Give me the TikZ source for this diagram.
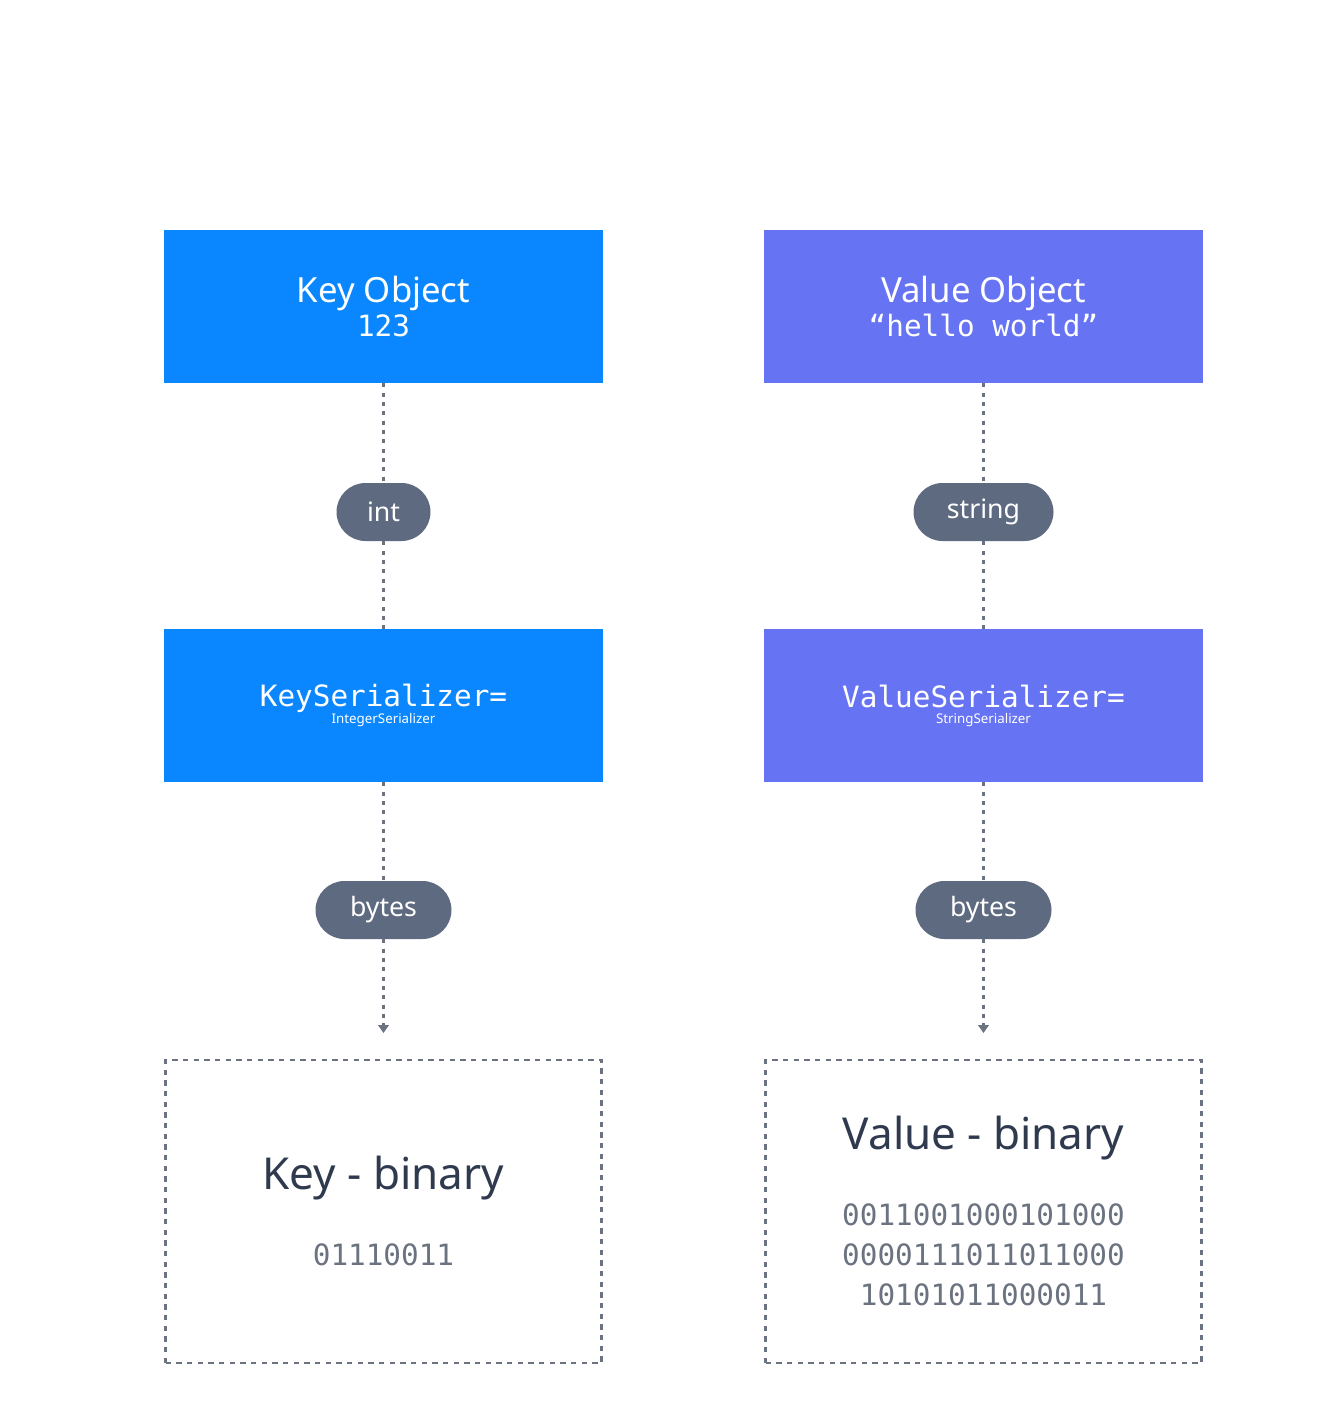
\documentclass[tikz,border=0pt]{standalone}
\usepackage{fontspec}
\setmainfont{Noto Sans}
\newfontfamily\monof{DejaVu Sans Mono}
\usetikzlibrary{arrows.meta}
\definecolor{kblue}{HTML}{0A87FF}
\definecolor{vpurp}{HTML}{6673F2}
\definecolor{pillc}{HTML}{5E6A80}
\definecolor{darkt}{HTML}{2F3A4F}
\definecolor{grayt}{HTML}{6B7280}
\definecolor{linec}{HTML}{6B7280}
\begin{document}
\begin{tikzpicture}[x=0.75pt,y=-0.75pt,
  keybox/.style={fill=kblue,minimum width=329.25pt,minimum height=114.75pt,inner sep=0,text=white,align=center},
  valbox/.style={keybox,fill=vpurp},
  pill/.style={fill=pillc,rounded corners=21.75pt,minimum height=43.5pt,inner sep=0,text=white,font=\fontsize{20}{24}\selectfont},
  binbox/.style={draw=linec,dash pattern=on 4pt off 4pt,line width=1.8pt,minimum width=327pt,minimum height=227pt,inner sep=0,align=center},
  conn/.style={draw=linec,line width=2.2pt,dash pattern=on 3pt off 4pt},
  ttl/.style={font=\fontsize{26}{32}\selectfont\bfseries},
  mono/.style={font=\monof\fontsize{22}{32}\selectfont}]
\useasboundingbox (0,0) rectangle (1328,1402);
\node[keybox] (ko) at (383.5,306.5) {{\fontsize{26}{32}\selectfont\bfseries Key Object}\\[2pt]{\monof\fontsize{22}{28}\selectfont 123}};
\node[valbox] (vo) at (983.5,306.5) {{\fontsize{26}{32}\selectfont\bfseries Value Object}\\[2pt]{\monof\fontsize{22}{28}\selectfont “hello world”}};
\node[keybox] (ks) at (383.5,705.5) {\monof\fontsize{22}{32}\selectfont KeySerializer=\\ IntegerSerializer};
\node[valbox] (vs) at (983.5,705.5) {\monof\fontsize{22}{32}\selectfont ValueSerializer=\\ StringSerializer};
\node[pill,minimum width=70.5pt] (pint) at (383.5,512) {int};
\node[pill,minimum width=105pt] (pstr) at (983.5,512) {string};
\node[pill,minimum width=102pt] (pkb) at (383.5,910) {bytes};
\node[pill,minimum width=102pt] (pvb) at (983.5,910) {bytes};
\node[binbox] (kb) at (383.5,1211.5) {};
\node[binbox] (vb) at (983.5,1211.5) {};
\node[text=darkt,font=\fontsize{33}{40}\selectfont\bfseries] (kbt) at (383.5,1178) {Key - binary};
\node[text=grayt,mono] (kbn) at (383.5,1255) {01110011};
\node[text=darkt,font=\fontsize{33}{40}\selectfont\bfseries] (vbt) at (983.5,1138) {Value - binary};
\node[text=grayt,mono,align=center,font=\monof\fontsize{22}{30}\selectfont] (vbn) at (983.5,1255) {0011001000101000\\0000111011011000\\10101011000011};
\coordinate (ke) at (383.5,1033);
\coordinate (ve) at (983.5,1033);
\path[conn] (ko.south) -- (pint.north);
\path[conn] (pint.south) -- (ks.north);
\path[conn] (ks.south) -- (pkb.north);
\path[conn,-{Triangle[length=6pt,width=8pt]}] (pkb.south) -- (ke);
\path[conn] (vo.south) -- (pstr.north);
\path[conn] (pstr.south) -- (vs.north);
\path[conn] (vs.south) -- (pvb.north);
\path[conn,-{Triangle[length=6pt,width=8pt]}] (pvb.south) -- (ve);
\end{tikzpicture}
\end{document}
